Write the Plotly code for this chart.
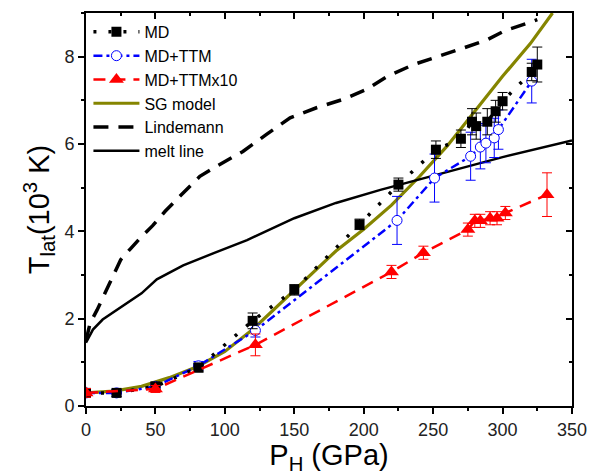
import plotly.graph_objects as go

# ---- data ----
md_p = [0, 22, 50, 81, 120, 150, 197, 225, 252, 270, 278, 281, 289, 295, 300, 321, 325]
md_t = [0.30, 0.30, 0.45, 0.88, 1.95, 2.66, 4.16, 5.07, 5.87, 6.12, 6.51, 6.41, 6.51, 6.75, 6.98, 7.65, 7.82]
md_e = [0.08, 0.08, 0.08, 0.1, 0.18, 0.12, 0.12, 0.15, 0.2, 0.2, 0.3, 0.3, 0.3, 0.25, 0.2, 0.2, 0.4]

ttm_p = [0, 22, 50, 81, 122, 224, 251, 277, 284, 288, 294, 297, 321]
ttm_t = [0.30, 0.30, 0.45, 0.92, 1.73, 4.25, 5.22, 5.72, 5.93, 6.02, 6.14, 6.33, 7.44]
ttm_e = [0.08, 0.08, 0.08, 0.1, 0.15, 0.55, 0.55, 0.55, 0.5, 0.45, 0.45, 0.45, 0.5]

x10_p = [0, 50, 122, 220, 243, 275, 280, 284, 291, 296, 302, 332]
x10_t = [0.30, 0.39, 1.40, 3.07, 3.51, 4.04, 4.24, 4.24, 4.30, 4.30, 4.42, 4.84]
x10_e = [0.1, 0.08, 0.25, 0.15, 0.15, 0.15, 0.15, 0.15, 0.15, 0.15, 0.15, 0.5]

sg_p = [0, 20, 40, 50, 60, 80, 100, 120, 140, 160, 180, 200, 220, 240, 260, 280, 300, 320, 336]
sg_t = [0.30, 0.34, 0.45, 0.55, 0.65, 0.90, 1.25, 1.75, 2.35, 2.95, 3.55, 4.05, 4.60, 5.25, 5.95, 6.75, 7.55, 8.30, 9.0]

lin_p = [0, 3, 8, 17, 25, 32, 40, 48, 57, 65, 75, 82, 94, 113, 130, 147, 166, 185, 202, 217, 236, 255, 272, 289, 302, 320, 325]
lin_t = [1.50, 1.90, 2.20, 2.80, 3.35, 3.60, 3.88, 4.13, 4.46, 4.72, 5.03, 5.26, 5.49, 5.83, 6.22, 6.60, 6.83, 7.02, 7.25, 7.55, 7.82, 8.01, 8.20, 8.39, 8.60, 8.79, 8.85]

melt_p = [0, 5, 12, 27, 40, 51, 70, 92, 116, 150, 180, 212, 260, 300, 350]
melt_t = [1.45, 1.75, 1.98, 2.30, 2.58, 2.90, 3.22, 3.50, 3.80, 4.30, 4.65, 4.95, 5.35, 5.70, 6.08]

x_ticks = [0, 50, 100, 150, 200, 250, 300, 350]
y_ticks = [0, 2, 4, 6, 8]

OLIVE = "#858500"
BLUE = "#0000ff"
RED = "#ff0000"
FONT = "Liberation Sans, Arial, sans-serif"

fig = go.Figure()

fig.add_trace(go.Scatter(x=sg_p, y=sg_t, mode="lines", name="SG model", legendrank=4,
                         line=dict(color=OLIVE, width=3.2)))
fig.add_trace(go.Scatter(x=lin_p, y=lin_t, mode="lines", name="Lindemann", legendrank=5,
                         line=dict(color="black", width=3.5, dash="15px,10px")))
fig.add_trace(go.Scatter(x=melt_p, y=melt_t, mode="lines", name="melt line", legendrank=6,
                         line=dict(color="black", width=2.5)))

fig.add_trace(go.Scatter(x=ttm_p, y=ttm_t, mode="lines+markers", name="MD+TTM", legendrank=2,
                         line=dict(color=BLUE, width=2.5, dash="9px,4px,3px,4px"),
                         marker=dict(symbol="circle", size=10, color="white", line=dict(width=1, color=BLUE)),
                         error_y=dict(type="data", array=ttm_e, color=BLUE, thickness=1, width=5)))
fig.add_trace(go.Scatter(x=md_p, y=md_t, mode="lines+markers", name="MD", legendrank=1,
                         line=dict(color="black", width=3.5, dash="3px,12px"),
                         marker=dict(symbol="square", size=10, color="black"),
                         error_y=dict(type="data", array=md_e, color="black", thickness=1, width=5)))
fig.add_trace(go.Scatter(x=x10_p, y=x10_t, mode="lines+markers", name="MD+TTMx10", legendrank=3,
                         line=dict(color=RED, width=2.5, dash="12px,8px"),
                         marker=dict(symbol="triangle-up", size=13, color=RED),
                         error_y=dict(type="data", array=x10_e, color=RED, thickness=1, width=5)))

axis_common = dict(showline=True, linecolor="black", linewidth=2, showgrid=False, zeroline=False,
                   tickcolor="black", tickwidth=1.5, ticklen=6, automargin=False,
                   tickfont=dict(family=FONT, size=18, color="#222"))

fig.update_layout(
    width=590, height=475,
    margin=dict(l=86, r=18, t=13, b=69),
    paper_bgcolor="white", plot_bgcolor="white",
    font=dict(family=FONT, color="black"),
    showlegend=True,
    legend=dict(x=0.005, y=0.995, xanchor="left", yanchor="top", bgcolor="rgba(0,0,0,0)",
                font=dict(family=FONT, size=16, color="black"), tracegroupgap=0, itemwidth=46),
    xaxis=dict(range=[0, 350], tickvals=x_ticks, ticks="outside",
               minor=dict(dtick=25, ticks="outside", ticklen=3, tickcolor="black", tickwidth=1.5),
               title=dict(text="P<sub>H</sub> (GPa)", font=dict(family=FONT, size=29, color="black"), standoff=4),
               **axis_common),
    yaxis=dict(range=[0, 9], tickvals=y_ticks, ticks="outside",
               minor=dict(dtick=1, ticks="outside", ticklen=3, tickcolor="black", tickwidth=1.5),
               title=dict(text="T<sub>lat</sub>(10<sup>3</sup> K)", font=dict(family=FONT, size=29, color="black"), standoff=6),
               **axis_common),
    xaxis2=dict(overlaying="x", side="top", matches="x", range=[0, 350], tickvals=x_ticks,
                ticks="inside", showticklabels=False, showline=True, linecolor="black", linewidth=2,
                showgrid=False, zeroline=False, tickcolor="black", tickwidth=1.5, ticklen=6, automargin=False,
                minor=dict(dtick=25, ticks="inside", ticklen=3, tickcolor="black", tickwidth=1.5)),
    yaxis2=dict(overlaying="y", side="right", matches="y", range=[0, 9], tickvals=y_ticks,
                ticks="inside", showticklabels=False, showline=True, linecolor="black", linewidth=2,
                showgrid=False, zeroline=False, tickcolor="black", tickwidth=1.5, ticklen=6, automargin=False,
                minor=dict(dtick=1, ticks="inside", ticklen=3, tickcolor="black", tickwidth=1.5)),
)

# invisible trace to activate the mirrored axes
fig.add_trace(go.Scatter(x=[0], y=[0], xaxis="x2", yaxis="y2", mode="markers",
                         marker=dict(opacity=0), showlegend=False, hoverinfo="skip"))

fig.write_html("out.html")
